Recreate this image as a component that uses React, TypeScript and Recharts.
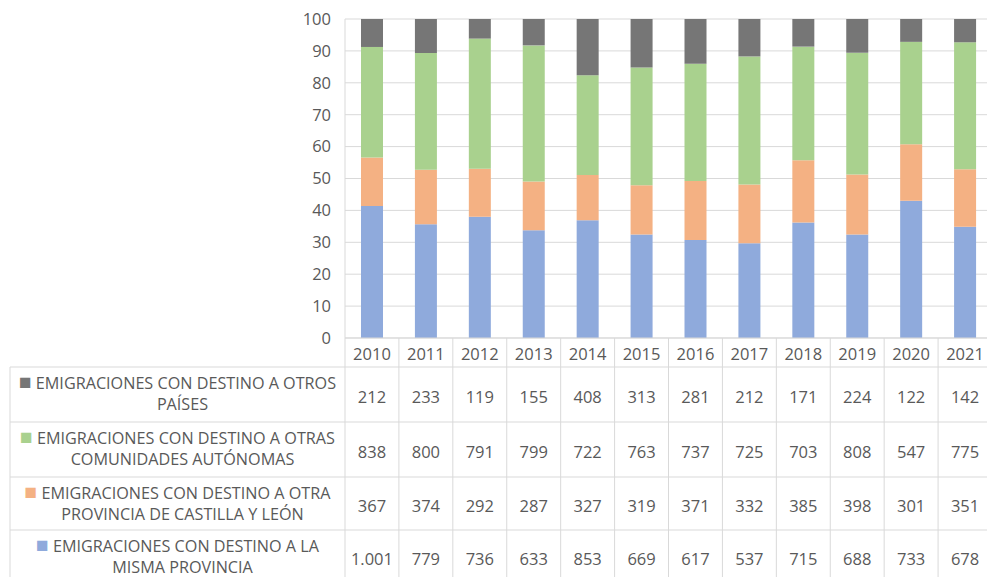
import { BarChart, Bar, XAxis, YAxis, CartesianGrid } from "recharts";

// ─── data ────────────────────────────────────────────────────────────────────

const YEARS = ["2010", "2011", "2012", "2013", "2014", "2015", "2016", "2017", "2018", "2019", "2020", "2021"];

const OTROS_PAISES = [212, 233, 119, 155, 408, 313, 281, 212, 171, 224, 122, 142];
const OTRAS_CCAA = [838, 800, 791, 799, 722, 763, 737, 725, 703, 808, 547, 775];
const OTRA_PROVINCIA = [367, 374, 292, 287, 327, 319, 371, 332, 385, 398, 301, 351];
const MISMA_PROVINCIA = [1001, 779, 736, 633, 853, 669, 617, 537, 715, 688, 733, 678];

const LABEL_OTROS_PAISES = ["EMIGRACIONES CON DESTINO A OTROS", "PAÍSES"];
const LABEL_OTRAS_CCAA = ["EMIGRACIONES CON DESTINO A OTRAS", "COMUNIDADES AUTÓNOMAS"];
const LABEL_OTRA_PROVINCIA = ["EMIGRACIONES CON DESTINO A OTRA", "PROVINCIA DE CASTILLA Y LEÓN"];
const LABEL_MISMA_PROVINCIA = ["EMIGRACIONES CON DESTINO A LA", "MISMA PROVINCIA"];

const Y_TICKS = [0, 0.1, 0.2, 0.3, 0.4, 0.5, 0.6, 0.7, 0.8, 0.9, 1];

// table order, top to bottom (the stack is drawn bottom-up, reversed)
const SERIES = [
  { key: "otrosPaises", label: LABEL_OTROS_PAISES, values: OTROS_PAISES, color: "#767676" },
  { key: "otrasCcaa", label: LABEL_OTRAS_CCAA, values: OTRAS_CCAA, color: "#a9d18e" },
  { key: "otraProvincia", label: LABEL_OTRA_PROVINCIA, values: OTRA_PROVINCIA, color: "#f4b183" },
  { key: "mismaProvincia", label: LABEL_MISMA_PROVINCIA, values: MISMA_PROVINCIA, color: "#8faadc" },
];

const data = YEARS.map((year, i) => {
  const row: Record<string, string | number> = { year };
  SERIES.forEach((s) => (row[s.key] = s.values[i]));
  return row;
});

// ─── layout ──────────────────────────────────────────────────────────────────

const CHART_W = 992;
const CHART_H = 577;
const PLOT_LEFT = 345;
const PLOT_TOP = 19;
const PLOT_BOTTOM = 338;
const COL_W = (CHART_W - PLOT_LEFT) / YEARS.length;
const TABLE_LEFT = 10;
const ROW_TOPS = [367, 422, 477, 530];
const ROW_BOTTOM = 584;
const GRID = "#d9d9d9";
const TEXT = "#595959";
const FONT = "'Open Sans', sans-serif";

const fmt = (n: number) => String(n).replace(/\B(?=(\d{3})+(?!\d))/g, ".");

function LeftColumn() {
  const cx = (TABLE_LEFT + PLOT_LEFT) / 2;
  return (
    <g>
      {ROW_TOPS.map((y) => (
        <line key={y} x1={TABLE_LEFT} x2={CHART_W} y1={y} y2={y} stroke={GRID} />
      ))}
      <line x1={TABLE_LEFT} x2={TABLE_LEFT} y1={ROW_TOPS[0]} y2={ROW_BOTTOM} stroke={GRID} />
      {SERIES.map((s, r) => (
        <g key={s.key} fontFamily={FONT} fontSize={16.2} fill={TEXT} textAnchor="middle">
          <text x={cx} y={ROW_TOPS[r] + 22}>
            <tspan fill={s.color} fontSize={21}>■</tspan>
            <tspan> {s.label[0]}</tspan>
          </text>
          <text x={cx + 5} y={ROW_TOPS[r] + 37} dominantBaseline="central">
            {s.label[1]}
          </text>
        </g>
      ))}
    </g>
  );
}

function TableTick(props: any) {
  const { x, payload, index } = props;
  const left = x - COL_W / 2;
  const right = x + COL_W / 2;
  return (
    <g fontFamily={FONT} fontSize={16.5} fill={TEXT} textAnchor="middle">
      {index === 0 && <LeftColumn />}
      <line x1={left} x2={left} y1={PLOT_BOTTOM} y2={ROW_BOTTOM} stroke={GRID} />
      {index === YEARS.length - 1 && (
        <line x1={right} x2={right} y1={PLOT_BOTTOM} y2={ROW_BOTTOM} stroke={GRID} />
      )}
      <text x={x} y={353} dominantBaseline="central">
        {payload.value}
      </text>
      {SERIES.map((s, r) => {
        const bottom = r + 1 < ROW_TOPS.length ? ROW_TOPS[r + 1] : ROW_BOTTOM;
        return (
          <text key={s.key} x={x} y={(ROW_TOPS[r] + bottom) / 2 + 1.5} dominantBaseline="central">
            {fmt(s.values[index])}
          </text>
        );
      })}
    </g>
  );
}

export default function App() {
  return (
    <div style={{ position: "absolute", left: 0, top: 0, width: 987, height: 577, overflow: "hidden", background: "#fff" }}>
      <BarChart
        width={CHART_W}
        height={CHART_H}
        data={data}
        stackOffset="expand"
        margin={{ top: PLOT_TOP, right: 0, left: PLOT_LEFT - 45, bottom: 0 }}
      >
        <CartesianGrid vertical={false} stroke={GRID} />
        <XAxis
          dataKey="year"
          height={CHART_H - PLOT_BOTTOM}
          axisLine={{ stroke: GRID }}
          tickLine={false}
          interval={0}
          tick={<TableTick />}
        />
        <YAxis
          width={45}
          domain={[0, 1]}
          ticks={Y_TICKS}
          tickFormatter={(v: number) => String(Math.round(v * 100))}
          axisLine={{ stroke: GRID }}
          tickLine={false}
          tickSize={0}
          tickMargin={14}
          tick={{ fill: TEXT, fontSize: 16.5, fontFamily: FONT }}
        />
        {[...SERIES].reverse().map((s) => (
          <Bar key={s.key} dataKey={s.key} stackId="a" fill={s.color} barSize={22} isAnimationActive={false} />
        ))}
      </BarChart>
    </div>
  );
}
